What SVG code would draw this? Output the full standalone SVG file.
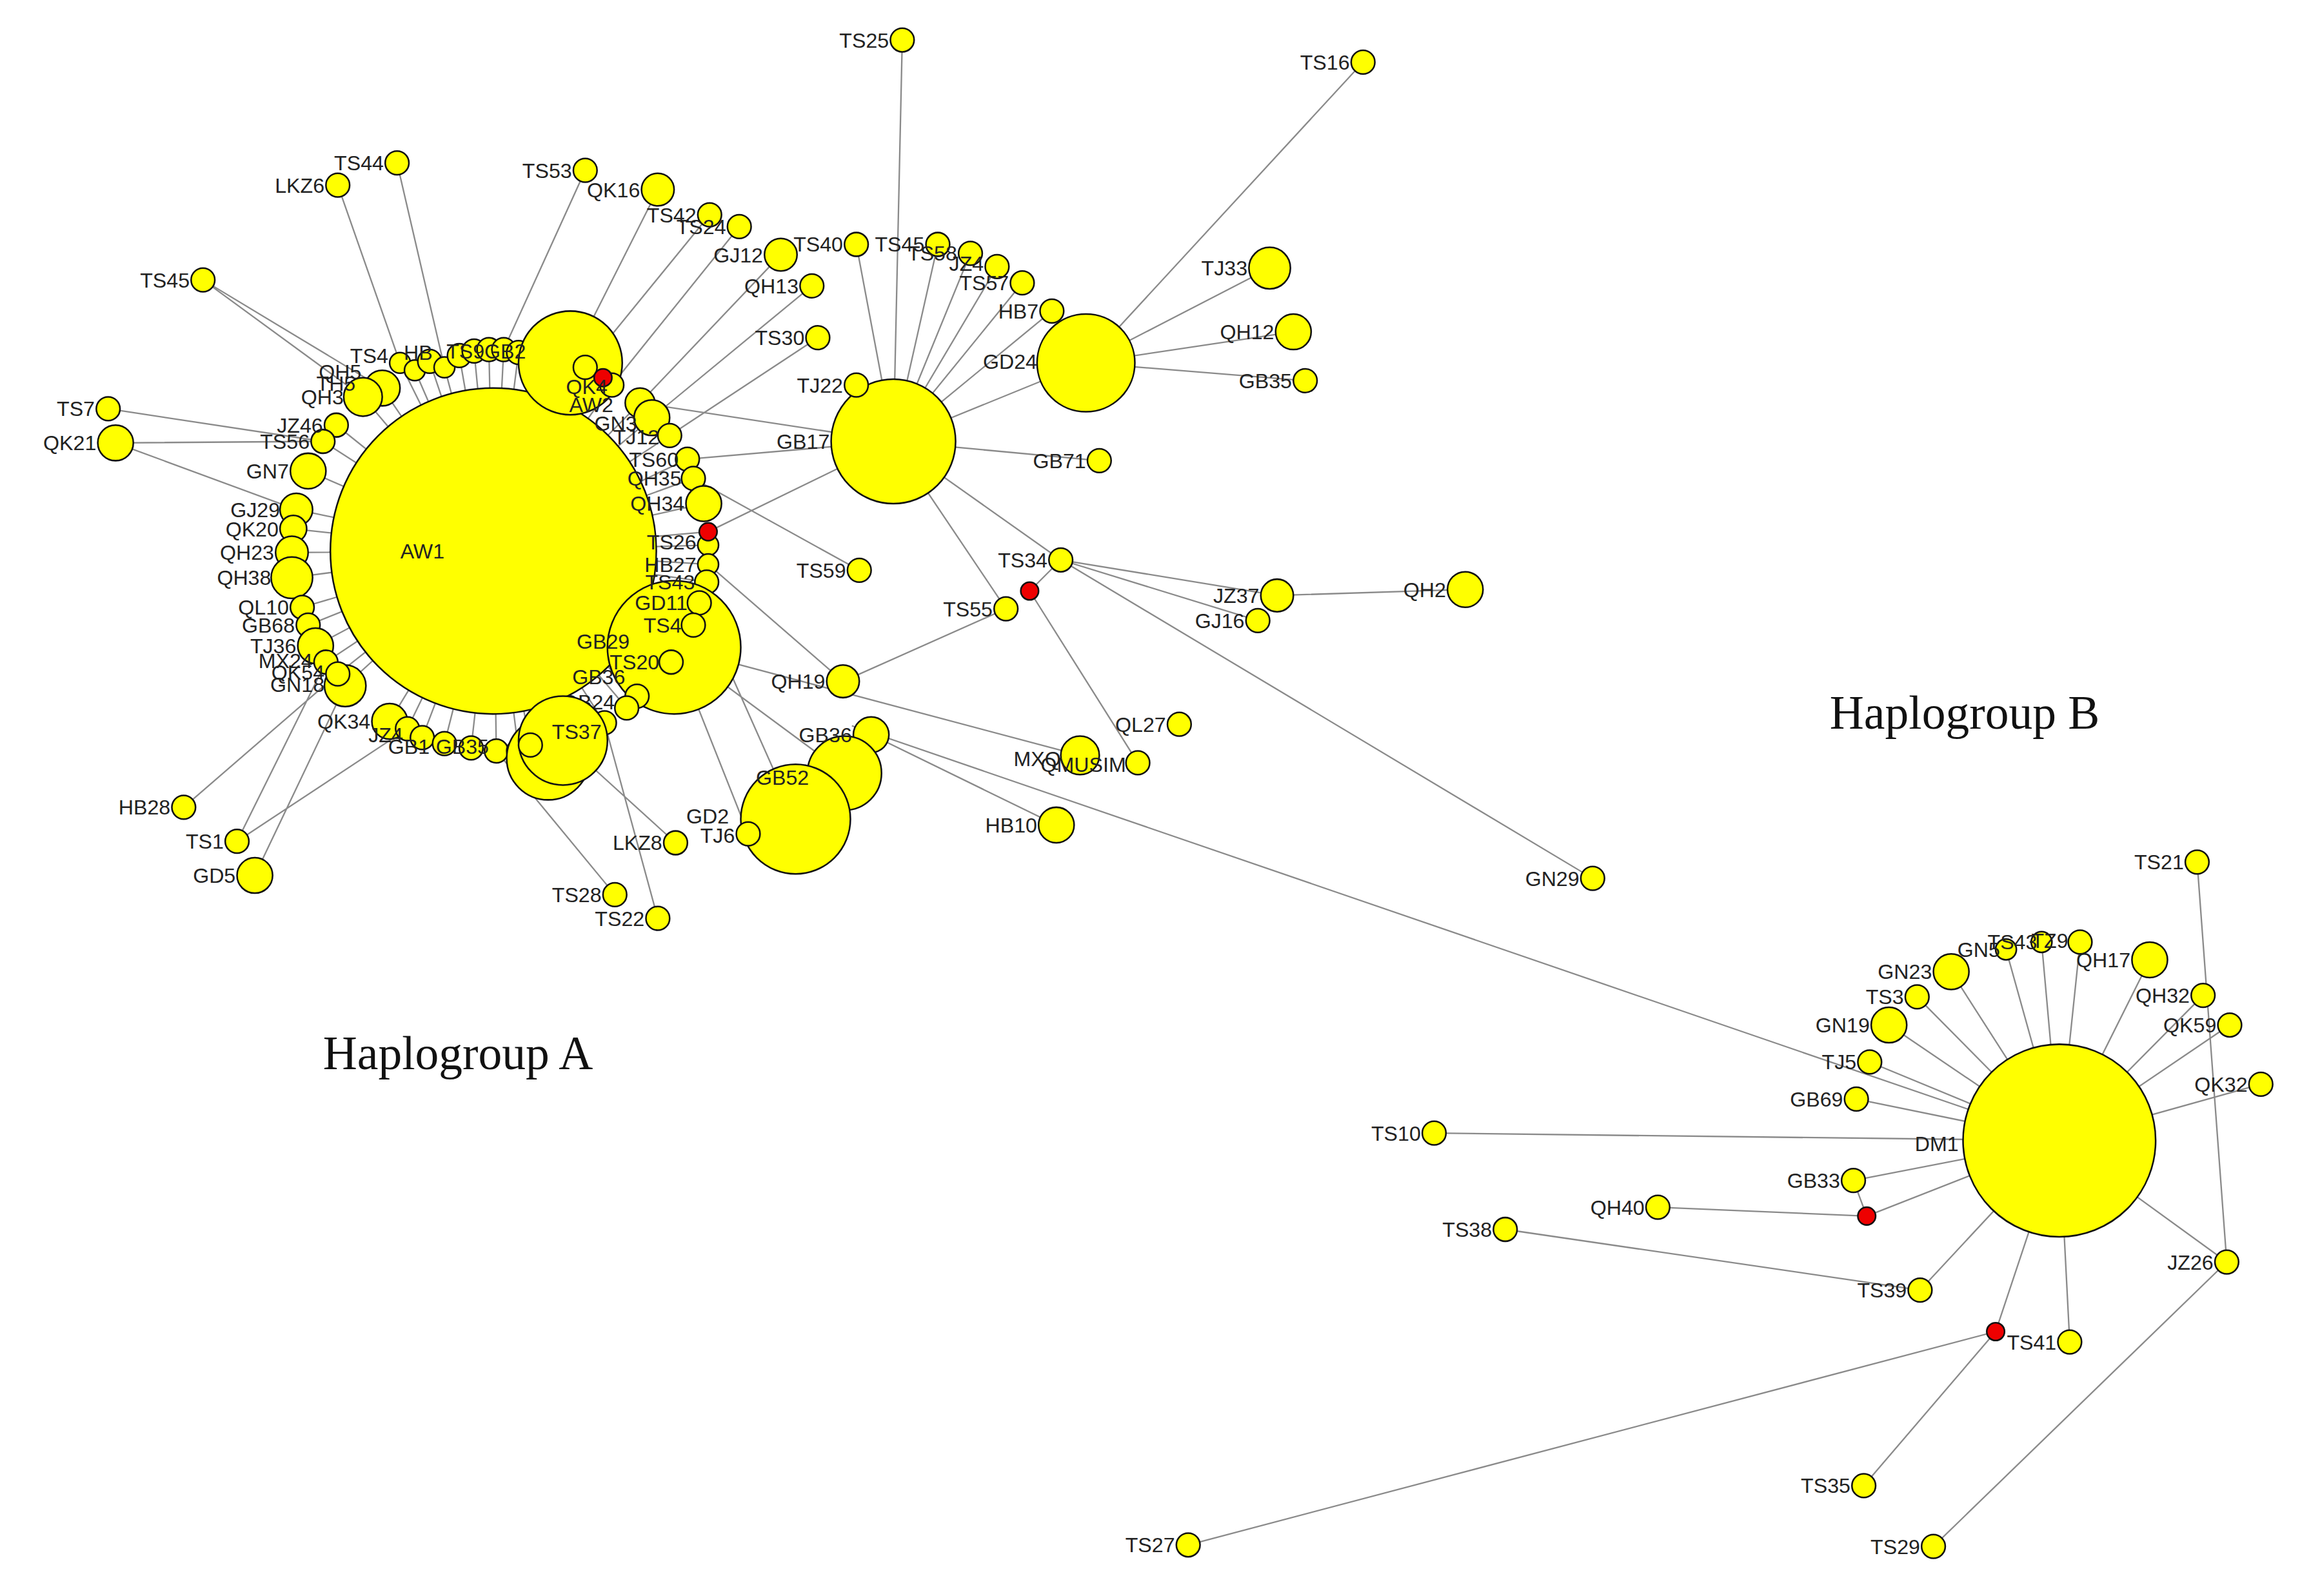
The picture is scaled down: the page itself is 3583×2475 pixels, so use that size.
<svg xmlns="http://www.w3.org/2000/svg" width="3583" height="2475" viewBox="0 0 3583 2475">
<style>
.e{stroke:#8a8a8a;stroke-width:1;fill:none}
.n{fill:#ffff00;stroke:#111;stroke-width:1.1}
.r{fill:#ee0000;stroke:#111;stroke-width:1.1}
.t{font-family:"Liberation Sans",Arial,sans-serif;font-size:14px;fill:#222;text-anchor:end}
.h{font-family:"Liberation Serif","Times New Roman",serif;font-size:32px;fill:#111}
</style>
<rect width="3583" height="2475" fill="#fff"/>
<g transform="scale(2.297)">
<g id="connectors">
<path class="e" d="M333,372L270,245M333,372L280,250M333,372L290,244M333,372L300,248M333,372L258,262M333,372L245,268M333,372L227,287M333,372L218,298M333,372L208,318M333,372L200,344M333,372L198,357M333,372L197,373M333,372L197,390M333,372L204,410M333,372L208,422M333,372L213,436M333,372L220,447M333,372L228,455M333,372L233,463M333,372L310,240M333,372L320,237M333,372L330,236M333,372L340,236M333,372L350,238M333,372L360,240M333,372L372,240M333,372L385,245M333,372L395,248M333,372L407,255M333,372L413,260M333,372L432,272M333,372L440,282M333,372L452,294M333,372L464,310M333,372L468,323M333,372L475,340M333,372L478,359M333,372L478,368M333,372L478,381M333,372L477,393M333,372L472,407M333,372L455,437M333,372L430,470M333,372L423,478M333,372L408,488M333,372L263,487M333,372L275,492M333,372L285,498M333,372L300,502M333,372L318,505M333,372L335,507M333,372L350,507M333,372L358,503M333,372L380,500M333,372L370,512"/>
<path class="e" d="M268,110L300,248M228,125L270,245M395,115L340,236M444,128L385,245M479,145L395,248M499,153L413,260M137,189L245,268M137,189L258,262M527,172L432,272M548,193L440,282M552,228L452,294M73,276L218,298M78,299L218,298M78,299L200,344M124,545L228,455M160,568L220,447M160,568L275,492M172,591L233,463M415,604L335,507M444,620L408,488M456,569L380,500M505,563L455,437M580,385L468,323"/>
<path class="e" d="M603,298L609,27M603,298L578,165M603,298L633,165M603,298L655,171M603,298L673,180M603,298L690,191M603,298L710,210M603,298L733,245M603,298L578,260M603,298L742,311M603,298L716,378M603,298L679,411M603,298L478,359M603,298L432,272M603,298L464,310"/>
<path class="e" d="M733,245L920,42M733,245L857,181M733,245L873,224M733,245L881,257"/>
<path class="e" d="M716,378L862,402M716,378L849,419M716,378L1075,593M695,399L768,515M716,378L695,399M862,402L989,398M679,411L569,460M569,460L478,381M729,510L455,437M713,557L588,496M575,490L1390,770M537,553L472,407M570,522L455,437"/>
<path class="e" d="M1390,770L1526,732M1390,770L1505,692M1390,770L1487,672M1390,770L1451,648M1390,770L1404,636M1390,770L1378,636M1390,770L1354,641M1390,770L1317,656M1390,770L1294,673M1390,770L1275,692M1390,770L1262,717M1390,770L1253,742M1390,770L968,765M1390,770L1260,821M1390,770L1296,871M1390,770L1347,899M1390,770L1397,906M1390,770L1503,852M1390,770L1251,797"/>
<path class="e" d="M1483,582L1503,852M1503,852L1305,1044M1260,821L1119,815M1260,821L1251,797M1016,830L1296,871M1347,899L802,1043M1347,899L1258,1003"/>
</g>
<g id="nodes">
<circle class="n" cx="333" cy="372" r="110"/>
<text class="t" x="300" y="377">AW1</text>
<g id="arcL">
<circle class="n" cx="270" cy="245" r="7"/><circle class="n" cx="280" cy="250" r="7"/><circle class="n" cx="290" cy="244" r="8"/><circle class="n" cx="300" cy="248" r="7"/>
<circle class="n" cx="258" cy="262" r="12"/><circle class="n" cx="245" cy="268" r="13"/><circle class="n" cx="227" cy="287" r="8"/><circle class="n" cx="218" cy="298" r="8"/>
<circle class="n" cx="208" cy="318" r="12"/><circle class="n" cx="200" cy="344" r="11"/><circle class="n" cx="198" cy="357" r="9"/><circle class="n" cx="197" cy="373" r="11"/>
<circle class="n" cx="197" cy="390" r="14"/><circle class="n" cx="204" cy="410" r="8"/><circle class="n" cx="208" cy="422" r="8"/><circle class="n" cx="213" cy="436" r="12"/>
<circle class="n" cx="220" cy="447" r="8"/><circle class="n" cx="233" cy="463" r="14"/><circle class="n" cx="228" cy="455" r="8"/>
<text class="t" x="262" y="245">TS4</text><text class="t" x="244" y="256">QH5</text><text class="t" x="240" y="264">TH5</text><text class="t" x="232" y="273">QH3</text>
<text class="t" x="218" y="292">JZ46</text><text class="t" x="209" y="303">TS56</text><text class="t" x="195" y="323">GN7</text><text class="t" x="189" y="349">GJ29</text>
<text class="t" x="188" y="362">QK20</text><text class="t" x="185" y="378">QH23</text><text class="t" x="183" y="395">QH38</text><text class="t" x="195" y="415">QL10</text>
<text class="t" x="199" y="427">GB68</text><text class="t" x="200" y="441">TJ36</text><text class="t" x="211" y="451">MX24</text><text class="t" x="219" y="459">QK54</text><text class="t" x="219" y="467">GN18</text>
</g>
<g id="arcT">
<circle class="n" cx="310" cy="240" r="8"/><circle class="n" cx="320" cy="237" r="8"/><circle class="n" cx="330" cy="236" r="8"/><circle class="n" cx="340" cy="236" r="8"/>
<circle class="n" cx="350" cy="238" r="8"/><circle class="n" cx="360" cy="240" r="8"/><circle class="n" cx="372" cy="240" r="8"/>
<circle class="n" cx="385" cy="245" r="35"/><circle class="n" cx="395" cy="248" r="8"/><circle class="n" cx="413" cy="260" r="8"/><circle class="r" cx="407" cy="255" r="6"/>
<text class="t" x="292" y="243">HB</text><text class="t" x="327" y="242">TS9</text><text class="t" x="355" y="242">GB2</text><text class="t" x="410" y="266">QK4</text><text class="t" x="414" y="278">AW2</text>
</g>
<g id="arcR">
<circle class="n" cx="432" cy="272" r="10"/><circle class="n" cx="440" cy="282" r="12"/><circle class="n" cx="452" cy="294" r="8"/><circle class="n" cx="464" cy="310" r="8"/>
<circle class="n" cx="468" cy="323" r="8"/><circle class="n" cx="475" cy="340" r="12"/><circle class="n" cx="478" cy="368" r="7"/><circle class="n" cx="478" cy="381" r="7"/>
<circle class="n" cx="477" cy="393" r="8"/><circle class="n" cx="455" cy="437" r="45"/><circle class="n" cx="472" cy="407" r="8"/><circle class="n" cx="468" cy="422" r="8"/><circle class="n" cx="453" cy="447" r="8"/>
<circle class="n" cx="430" cy="470" r="8"/><circle class="n" cx="423" cy="478" r="8"/><circle class="n" cx="408" cy="488" r="8"/><circle class="r" cx="478" cy="359" r="6"/>
<text class="t" x="430" y="291">GN3</text><text class="t" x="445" y="300">TJ12</text><text class="t" x="458" y="315">TS60</text><text class="t" x="460" y="328">QH35</text>
<text class="t" x="462" y="345">QH34</text><text class="t" x="470" y="371">TS26</text><text class="t" x="470" y="386">HB27</text><text class="t" x="469" y="398">TS43</text>
<text class="t" x="464" y="412">GD11</text><text class="t" x="460" y="427">TS4</text><text class="t" x="425" y="438">GB29</text><text class="t" x="445" y="452">TS20</text><text class="t" x="422" y="462">GB36</text><text class="t" x="415" y="479">GB24</text>
</g>
<g id="arcB">
<circle class="n" cx="263" cy="487" r="12"/><circle class="n" cx="275" cy="492" r="8"/><circle class="n" cx="285" cy="498" r="8"/><circle class="n" cx="300" cy="502" r="8"/>
<circle class="n" cx="318" cy="505" r="8"/><circle class="n" cx="335" cy="507" r="8"/><circle class="n" cx="350" cy="507" r="8"/>
<circle class="n" cx="370" cy="512" r="28"/><circle class="n" cx="380" cy="500" r="30"/><circle class="n" cx="358" cy="503" r="8"/>
<text class="t" x="250" y="492">QK34</text><text class="t" x="272" y="501">JZ4</text><text class="t" x="290" y="509">GB1</text><text class="t" x="330" y="509">GB35</text><text class="t" x="406" y="499">TS37</text>
</g>
<g id="outerA">
<circle class="n" cx="609" cy="27" r="8"/><text class="t" x="600" y="32">TS25</text>
<circle class="n" cx="920" cy="42" r="8"/><text class="t" x="911" y="47">TS16</text>
<circle class="n" cx="268" cy="110" r="8"/><text class="t" x="259" y="115">TS44</text>
<circle class="n" cx="228" cy="125" r="8"/><text class="t" x="219" y="130">LKZ6</text>
<circle class="n" cx="395" cy="115" r="8"/><text class="t" x="386" y="120">TS53</text>
<circle class="n" cx="444" cy="128" r="11"/><text class="t" x="432" y="133">QK16</text>
<circle class="n" cx="479" cy="145" r="8"/><text class="t" x="470" y="150">TS42</text>
<circle class="n" cx="499" cy="153" r="8"/><text class="t" x="490" y="158">TS24</text>
<circle class="n" cx="137" cy="189" r="8"/><text class="t" x="128" y="194">TS45</text>
<circle class="n" cx="527" cy="172" r="11"/><text class="t" x="515" y="177">GJ12</text>
<circle class="n" cx="548" cy="193" r="8"/><text class="t" x="539" y="198">QH13</text>
<circle class="n" cx="552" cy="228" r="8"/><text class="t" x="543" y="233">TS30</text>
<circle class="n" cx="578" cy="165" r="8"/><text class="t" x="569" y="170">TS40</text>
<circle class="n" cx="633" cy="165" r="8"/><text class="t" x="624" y="170">TS45</text>
<circle class="n" cx="655" cy="171" r="8"/><text class="t" x="646" y="176">TS58</text>
<circle class="n" cx="673" cy="180" r="8"/><text class="t" x="664" y="183">JZ4</text>
<circle class="n" cx="690" cy="191" r="8"/><text class="t" x="681" y="196">TS57</text>
<circle class="n" cx="710" cy="210" r="8"/><text class="t" x="701" y="215">HB7</text>
<circle class="n" cx="857" cy="181" r="14"/><text class="t" x="842" y="186">TJ33</text>
<circle class="n" cx="873" cy="224" r="12"/><text class="t" x="860" y="229">QH12</text>
<circle class="n" cx="881" cy="257" r="8"/><text class="t" x="872" y="262">GB35</text>
<circle class="n" cx="733" cy="245" r="33"/><text class="t" x="700" y="249">GD24</text>
<circle class="n" cx="603" cy="298" r="42"/><text class="t" x="560" y="303">GB17</text>
<circle class="n" cx="578" cy="260" r="8"/><text class="t" x="569" y="265">TJ22</text>
<circle class="n" cx="742" cy="311" r="8"/><text class="t" x="733" y="316">GB71</text>
<circle class="n" cx="580" cy="385" r="8"/><text class="t" x="571" y="390">TS59</text>
<circle class="n" cx="716" cy="378" r="8"/><text class="t" x="707" y="383">TS34</text>
<circle class="r" cx="695" cy="399" r="6"/>
<circle class="n" cx="679" cy="411" r="8"/><text class="t" x="670" y="416">TS55</text>
<circle class="n" cx="862" cy="402" r="11"/><text class="t" x="850" y="407">JZ37</text>
<circle class="n" cx="849" cy="419" r="8"/><text class="t" x="840" y="424">GJ16</text>
<circle class="n" cx="989" cy="398" r="12"/><text class="t" x="976" y="403">QH2</text>
<circle class="n" cx="569" cy="460" r="11"/><text class="t" x="557" y="465">QH19</text>
<circle class="n" cx="796" cy="489" r="8"/><text class="t" x="787" y="494">QL27</text>
<circle class="n" cx="729" cy="510" r="13"/><circle class="n" cx="768" cy="515" r="8"/><text class="t" x="716" y="517">MXQ</text><text class="t" x="760" y="521">QMUSIM</text>
<circle class="n" cx="713" cy="557" r="12"/><text class="t" x="700" y="562">HB10</text>
<circle class="n" cx="1075" cy="593" r="8"/><text class="t" x="1066" y="598">GN29</text>
<circle class="n" cx="588" cy="496" r="12"/><circle class="n" cx="570" cy="522" r="25"/><text class="t" x="575" y="501">GB36</text>
<circle class="n" cx="537" cy="553" r="37"/><text class="t" x="546" y="530">GB52</text>
<circle class="n" cx="505" cy="563" r="8"/><text class="t" x="496" y="569">TJ6</text><text class="t" x="492" y="556">GD2</text>
<circle class="n" cx="456" cy="569" r="8"/><text class="t" x="447" y="574">LKZ8</text>
<circle class="n" cx="415" cy="604" r="8"/><text class="t" x="406" y="609">TS28</text>
<circle class="n" cx="444" cy="620" r="8"/><text class="t" x="435" y="625">TS22</text>
<circle class="n" cx="124" cy="545" r="8"/><text class="t" x="115" y="550">HB28</text>
<circle class="n" cx="160" cy="568" r="8"/><text class="t" x="151" y="573">TS1</text>
<circle class="n" cx="172" cy="591" r="12"/><text class="t" x="159" y="596">GD5</text>
<circle class="n" cx="73" cy="276" r="8"/><text class="t" x="64" y="281">TS7</text>
<circle class="n" cx="78" cy="299" r="12"/><text class="t" x="65" y="304">QK21</text>
</g>
<g id="groupB">
<circle class="n" cx="1390" cy="770" r="65"/><text class="t" x="1322" y="777">DM1</text>
<circle class="n" cx="1483" cy="582" r="8"/><text class="t" x="1474" y="587">TS21</text>
<circle class="n" cx="1317" cy="656" r="12"/><text class="t" x="1304" y="661">GN23</text>
<circle class="n" cx="1354" cy="641" r="7"/><circle class="n" cx="1378" cy="636" r="7"/><circle class="n" cx="1404" cy="636" r="8"/>
<text class="t" x="1350" y="646">GN5</text><text class="t" x="1375" y="641">TS43</text><text class="t" x="1396" y="640">TZ9</text>
<circle class="n" cx="1451" cy="648" r="12"/><text class="t" x="1438" y="653">QH17</text>
<circle class="n" cx="1487" cy="672" r="8"/><text class="t" x="1478" y="677">QH32</text>
<circle class="n" cx="1505" cy="692" r="8"/><text class="t" x="1496" y="697">QK59</text>
<circle class="n" cx="1526" cy="732" r="8"/><text class="t" x="1517" y="737">QK32</text>
<circle class="n" cx="1294" cy="673" r="8"/><text class="t" x="1285" y="678">TS3</text>
<circle class="n" cx="1275" cy="692" r="12"/><text class="t" x="1262" y="697">GN19</text>
<circle class="n" cx="1262" cy="717" r="8"/><text class="t" x="1253" y="722">TJ5</text>
<circle class="n" cx="1253" cy="742" r="8"/><text class="t" x="1244" y="747">GB69</text>
<circle class="n" cx="968" cy="765" r="8"/><text class="t" x="959" y="770">TS10</text>
<circle class="n" cx="1251" cy="797" r="8"/><text class="t" x="1242" y="802">GB33</text>
<circle class="n" cx="1119" cy="815" r="8"/><text class="t" x="1110" y="820">QH40</text>
<circle class="r" cx="1260" cy="821" r="6"/>
<circle class="n" cx="1016" cy="830" r="8"/><text class="t" x="1007" y="835">TS38</text>
<circle class="n" cx="1296" cy="871" r="8"/><text class="t" x="1287" y="876">TS39</text>
<circle class="n" cx="1503" cy="852" r="8"/><text class="t" x="1494" y="857">JZ26</text>
<circle class="r" cx="1347" cy="899" r="6"/>
<circle class="n" cx="1397" cy="906" r="8"/><text class="t" x="1388" y="911">TS41</text>
<circle class="n" cx="1258" cy="1003" r="8"/><text class="t" x="1249" y="1008">TS35</text>
<circle class="n" cx="802" cy="1043" r="8"/><text class="t" x="793" y="1048">TS27</text>
<circle class="n" cx="1305" cy="1044" r="8"/><text class="t" x="1296" y="1049">TS29</text>
</g>
<text class="h" x="218" y="722">Haplogroup A</text>
<text class="h" x="1235" y="492">Haplogroup B</text>
</g>
</g>
</svg>
